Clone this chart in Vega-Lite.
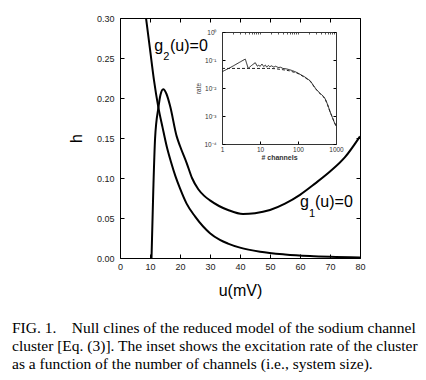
{
  "$schema": "https://vega.github.io/schema/vega-lite/v6.json",
  "width": 240,
  "height": 240,
  "autosize": "none",
  "padding": {"left": 120, "top": 18, "right": 66, "bottom": 122},
  "background": "white",
  "config": {
    "view": {"stroke": "black", "strokeWidth": 1},
    "axis": {"labelFont": "Liberation Sans", "titleFont": "Liberation Sans", "labelColor": "#222", "titleColor": "black", "tickColor": "black", "domainColor": "black", "grid": false, "labelFlush": false, "labelOverlap": false}
  },
  "title": {
    "text": ["FIG. 1.\u00a0\u00a0\u00a0\u00a0Null clines of the reduced model of the sodium channel", "cluster [Eq. (3)]. The inset shows the excitation rate of the cluster", "as a function of the number of channels (i.e., system size)."],
    "orient": "bottom",
    "anchor": "start",
    "frame": "group",
    "dx": -108,
    "offset": 23,
    "font": "Liberation Serif",
    "fontSize": 15.5,
    "fontWeight": "normal",
    "lineHeight": 18,
    "color": "black"
  },
  "datasets": {
    "nullclines": [
      {"curve": "g1", "u": 10.5, "h": 0.0},
      {"curve": "g1", "u": 11.1, "h": 0.085},
      {"curve": "g1", "u": 11.7, "h": 0.15},
      {"curve": "g1", "u": 12.8, "h": 0.188},
      {"curve": "g1", "u": 13.5, "h": 0.204},
      {"curve": "g1", "u": 14.4, "h": 0.211},
      {"curve": "g1", "u": 15.5, "h": 0.205},
      {"curve": "g1", "u": 16.7, "h": 0.19},
      {"curve": "g1", "u": 18.9, "h": 0.152},
      {"curve": "g1", "u": 20, "h": 0.14},
      {"curve": "g1", "u": 22.2, "h": 0.119},
      {"curve": "g1", "u": 24, "h": 0.1},
      {"curve": "g1", "u": 26.1, "h": 0.086},
      {"curve": "g1", "u": 28, "h": 0.078},
      {"curve": "g1", "u": 30, "h": 0.072},
      {"curve": "g1", "u": 33, "h": 0.065},
      {"curve": "g1", "u": 36, "h": 0.06},
      {"curve": "g1", "u": 41, "h": 0.055},
      {"curve": "g1", "u": 45, "h": 0.056},
      {"curve": "g1", "u": 50, "h": 0.06},
      {"curve": "g1", "u": 55, "h": 0.068},
      {"curve": "g1", "u": 60, "h": 0.079},
      {"curve": "g1", "u": 65, "h": 0.093},
      {"curve": "g1", "u": 70, "h": 0.108},
      {"curve": "g1", "u": 75, "h": 0.126},
      {"curve": "g1", "u": 80, "h": 0.152},
      {"curve": "g2", "u": 8.67, "h": 0.3},
      {"curve": "g2", "u": 10, "h": 0.261},
      {"curve": "g2", "u": 11.3, "h": 0.223},
      {"curve": "g2", "u": 12.8, "h": 0.188},
      {"curve": "g2", "u": 14.2, "h": 0.163},
      {"curve": "g2", "u": 15.6, "h": 0.139},
      {"curve": "g2", "u": 17, "h": 0.12},
      {"curve": "g2", "u": 18.5, "h": 0.102},
      {"curve": "g2", "u": 20, "h": 0.087},
      {"curve": "g2", "u": 22.2, "h": 0.068},
      {"curve": "g2", "u": 25, "h": 0.052},
      {"curve": "g2", "u": 30, "h": 0.031},
      {"curve": "g2", "u": 33.3, "h": 0.0226},
      {"curve": "g2", "u": 36, "h": 0.018},
      {"curve": "g2", "u": 40, "h": 0.013},
      {"curve": "g2", "u": 46.7, "h": 0.0079},
      {"curve": "g2", "u": 55, "h": 0.0045},
      {"curve": "g2", "u": 63.3, "h": 0.0025},
      {"curve": "g2", "u": 70, "h": 0.0015},
      {"curve": "g2", "u": 80, "h": 0.0006}
    ],
    "labels": [
      {"part": "main", "u": 11.43, "h": 0.2588, "t": "g"},
      {"part": "sub", "u": 14.43, "h": 0.248, "t": "2"},
      {"part": "main", "u": 16.67, "h": 0.2588, "t": "(u)=0"},
      {"part": "main", "u": 60, "h": 0.0639, "t": "g"},
      {"part": "sub", "u": 63.0, "h": 0.0514, "t": "1"},
      {"part": "main", "u": 65, "h": 0.0639, "t": "(u)=0"}
    ],
    "inset": [
      {"series": "simulation", "n": 1, "rate": 0.038},
      {"series": "simulation", "n": 1.5, "rate": 0.05},
      {"series": "simulation", "n": 2, "rate": 0.062},
      {"series": "simulation", "n": 3, "rate": 0.085},
      {"series": "simulation", "n": 4.1, "rate": 0.108},
      {"series": "simulation", "n": 4.9, "rate": 0.05},
      {"series": "simulation", "n": 6, "rate": 0.064},
      {"series": "simulation", "n": 7.5, "rate": 0.08},
      {"series": "simulation", "n": 8.5, "rate": 0.06},
      {"series": "simulation", "n": 9.3, "rate": 0.066},
      {"series": "simulation", "n": 10, "rate": 0.059},
      {"series": "simulation", "n": 11.3, "rate": 0.072},
      {"series": "simulation", "n": 12.5, "rate": 0.058},
      {"series": "simulation", "n": 13.8, "rate": 0.066},
      {"series": "simulation", "n": 15, "rate": 0.056},
      {"series": "simulation", "n": 16.8, "rate": 0.064},
      {"series": "simulation", "n": 18, "rate": 0.057},
      {"series": "simulation", "n": 20, "rate": 0.062},
      {"series": "simulation", "n": 23, "rate": 0.056},
      {"series": "simulation", "n": 26, "rate": 0.06},
      {"series": "simulation", "n": 30, "rate": 0.054},
      {"series": "simulation", "n": 35, "rate": 0.055},
      {"series": "simulation", "n": 40, "rate": 0.05},
      {"series": "simulation", "n": 50, "rate": 0.048},
      {"series": "simulation", "n": 60, "rate": 0.045},
      {"series": "simulation", "n": 70, "rate": 0.042},
      {"series": "simulation", "n": 85, "rate": 0.038},
      {"series": "simulation", "n": 100, "rate": 0.034},
      {"series": "simulation", "n": 150, "rate": 0.025},
      {"series": "simulation", "n": 210, "rate": 0.018},
      {"series": "simulation", "n": 287, "rate": 0.0098},
      {"series": "simulation", "n": 350, "rate": 0.0072},
      {"series": "simulation", "n": 470, "rate": 0.005},
      {"series": "simulation", "n": 524, "rate": 0.004},
      {"series": "simulation", "n": 600, "rate": 0.0026},
      {"series": "simulation", "n": 700, "rate": 0.0014},
      {"series": "simulation", "n": 800, "rate": 0.0009},
      {"series": "simulation", "n": 900, "rate": 0.0006},
      {"series": "simulation", "n": 1000, "rate": 0.00045},
      {"series": "theory", "n": 1, "rate": 0.05},
      {"series": "theory", "n": 5, "rate": 0.05},
      {"series": "theory", "n": 10, "rate": 0.05},
      {"series": "theory", "n": 17, "rate": 0.05},
      {"series": "theory", "n": 25, "rate": 0.049},
      {"series": "theory", "n": 40, "rate": 0.045},
      {"series": "theory", "n": 60, "rate": 0.041},
      {"series": "theory", "n": 100, "rate": 0.033},
      {"series": "theory", "n": 150, "rate": 0.024},
      {"series": "theory", "n": 210, "rate": 0.0175},
      {"series": "theory", "n": 287, "rate": 0.0095},
      {"series": "theory", "n": 350, "rate": 0.007},
      {"series": "theory", "n": 470, "rate": 0.0048},
      {"series": "theory", "n": 524, "rate": 0.0039},
      {"series": "theory", "n": 600, "rate": 0.0025},
      {"series": "theory", "n": 700, "rate": 0.0014},
      {"series": "theory", "n": 800, "rate": 0.0009},
      {"series": "theory", "n": 900, "rate": 0.0006},
      {"series": "theory", "n": 1000, "rate": 0.00044}
    ]
  },
  "layer": [
    {
      "encoding": {
        "x": {"field": "u", "type": "quantitative", "scale": {"domain": [0, 80], "nice": false, "zero": false},
          "axis": {"orient": "bottom", "values": [0, 10, 20, 30, 40, 50, 60, 70, 80], "tickSize": -4, "domain": false, "labelFontSize": 9, "labelPadding": 8, "title": "u(mV)", "titleFontSize": 16, "titleFontWeight": "normal", "titlePadding": 11}},
        "y": {"field": "h", "type": "quantitative", "scale": {"domain": [0, 0.3], "nice": false, "zero": false},
          "axis": {"orient": "left", "values": [0, 0.05, 0.1, 0.15, 0.2, 0.25, 0.3], "format": ".2f", "tickSize": -4, "domain": false, "labelFontSize": 9, "labelPadding": 10, "title": "h", "titleFontSize": 16, "titleFontWeight": "normal", "titlePadding": 12}}
      },
      "layer": [
        {
          "data": {"name": "nullclines"},
          "mark": {"type": "line", "color": "black", "strokeWidth": 2, "interpolate": "monotone", "clip": true},
          "encoding": {
            "detail": {"field": "curve", "type": "nominal"}
          }
        },
        {
          "data": {"name": "labels"},
          "transform": [{"filter": "datum.part == 'main'"}],
          "mark": {"type": "text", "font": "Liberation Sans", "fontSize": 16, "align": "left", "baseline": "alphabetic", "color": "black"},
          "encoding": {
            "text": {"field": "t", "type": "nominal"}
          }
        },
        {
          "data": {"name": "labels"},
          "transform": [{"filter": "datum.part == 'sub'"}],
          "mark": {"type": "text", "font": "Liberation Sans", "fontSize": 11, "align": "left", "baseline": "alphabetic", "color": "black"},
          "encoding": {
            "text": {"field": "t", "type": "nominal"}
          }
        }
      ]
    },
    {
      "data": {"name": "nullclines"},
      "mark": {"type": "line", "opacity": 0},
      "encoding": {
        "x": {"field": "u", "type": "quantitative", "scale": {"domain": [0, 80], "nice": false, "zero": false},
          "axis": {"orient": "top", "values": [0, 10, 20, 30, 40, 50, 60, 70, 80], "tickSize": -4, "domain": false, "labels": false, "title": null}},
        "y": {"field": "h", "type": "quantitative", "scale": {"domain": [0, 0.3], "nice": false, "zero": false},
          "axis": {"orient": "right", "values": [0, 0.05, 0.1, 0.15, 0.2, 0.25, 0.3], "tickSize": -4, "domain": false, "labels": false, "title": null}},
        "detail": {"field": "curve", "type": "nominal"}
      }
    },
    {
      "data": {"name": "inset"},
      "mark": {"type": "line", "color": "#222", "strokeWidth": 1, "clip": false},
      "encoding": {
        "x": {"field": "n", "type": "quantitative", "scale": {"type": "log", "domain": [1, 1000], "range": [102, 216], "nice": false},
          "axis": {"orient": "bottom", "offset": -114, "values": [1, 10, 100, 1000], "format": "d", "tickSize": -3, "domainColor": "#333", "labelFontSize": 6.5, "labelPadding": 5, "labelColor": "#333", "title": "# channels", "titleFontSize": 7, "titleFontWeight": "bold", "titleColor": "#333", "titlePadding": 1}},
        "y": {"field": "rate", "type": "quantitative", "scale": {"type": "log", "domain": [0.0001, 1], "range": [126, 14], "nice": false},
          "axis": {"orient": "left", "offset": -102, "values": [0.0001, 0.001, 0.01, 0.1, 1], "labelExpr": "datum.value > 0.5 ? '10⁰' : datum.value > 0.05 ? '10⁻¹' : datum.value > 0.005 ? '10⁻²' : datum.value > 0.0005 ? '10⁻³' : '10⁻⁴'", "tickSize": -3, "domainColor": "#333", "labelFontSize": 6.5, "labelPadding": 9, "labelColor": "#333", "title": "rate", "titleFontSize": 6.5, "titleFontWeight": "normal", "titleColor": "#333", "titlePadding": 2}},
        "strokeDash": {"field": "series", "type": "nominal", "scale": {"domain": ["simulation", "theory"], "range": [[1, 0], [3, 2]]}, "legend": null}
      }
    },
    {
      "data": {"name": "inset"},
      "mark": {"type": "line", "opacity": 0},
      "encoding": {
        "x": {"field": "n", "type": "quantitative", "scale": {"type": "log", "domain": [1, 1000], "range": [102, 216], "nice": false},
          "axis": {"orient": "top", "offset": -14, "values": [1, 2, 3, 4, 5, 6, 7, 8, 9, 10, 20, 30, 40, 50, 60, 70, 80, 90, 100, 200, 300, 400, 500, 600, 700, 800, 900, 1000], "tickSize": -2, "tickColor": "#555", "domainColor": "#333", "labels": false, "title": null}},
        "y": {"field": "rate", "type": "quantitative", "scale": {"type": "log", "domain": [0.0001, 1], "range": [126, 14], "nice": false},
          "axis": {"orient": "right", "offset": -24, "values": [0.0001, 0.001, 0.01, 0.1, 1], "tickSize": -3, "domainColor": "#333", "labels": false, "title": null}},
        "detail": {"field": "series", "type": "nominal"}
      }
    }
  ],
  "resolve": {
    "scale": {"x": "independent", "y": "independent", "strokeDash": "independent"},
    "axis": {"x": "independent", "y": "independent"}
  }
}
